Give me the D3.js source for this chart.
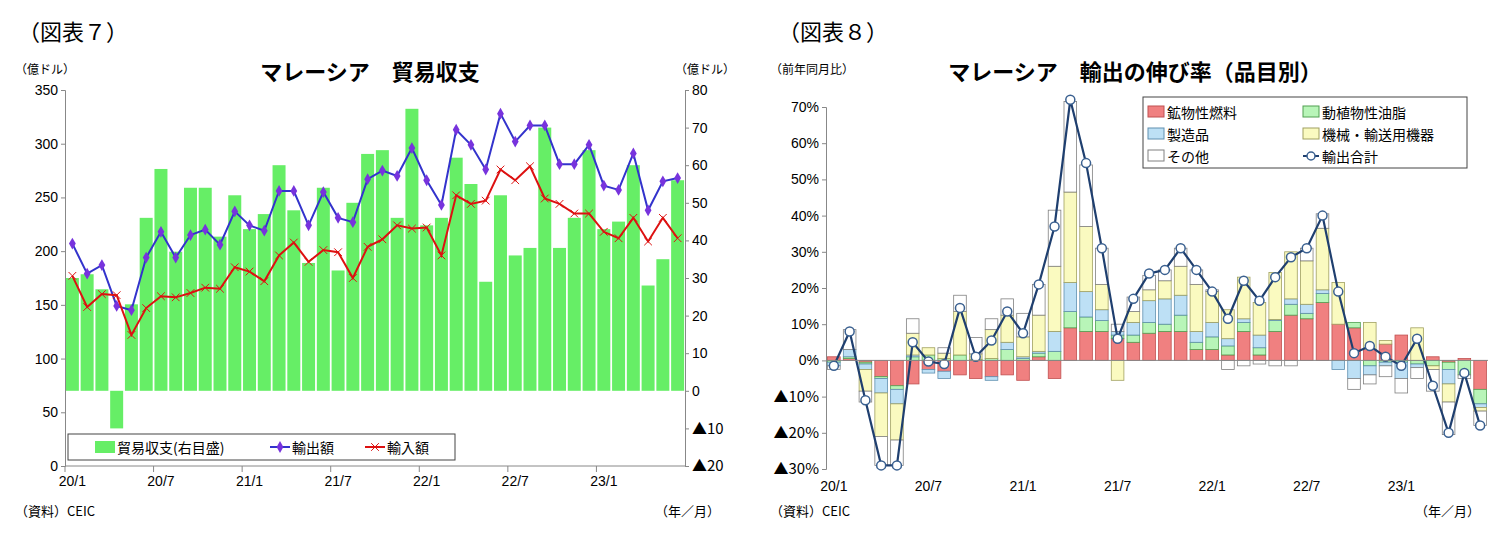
<!DOCTYPE html><html><head><meta charset="utf-8"><script src="https://cdn.jsdelivr.net/npm/d3@7"></script>
<style>body{margin:0;background:#fff}text{font-family:"Noto Sans CJK JP","Noto Sans",sans-serif}</style></head><body>
<svg id="c" width="1495" height="547"></svg>
<script>
const months=["20/1","20/2","20/3","20/4","20/5","20/6","20/7","20/8","20/9","20/10","20/11","20/12","21/1","21/2","21/3","21/4","21/5","21/6","21/7","21/8","21/9","21/10","21/11","21/12","22/1","22/2","22/3","22/4","22/5","22/6","22/7","22/8","22/9","22/10","22/11","22/12","23/1","23/2","23/3","23/4","23/5","23/6"];
const tickLabels=["20/1","20/7","21/1","21/7","22/1","22/7","23/1"];
const exportsV=[207,179,187,149,145,194,218,194,215,220,206,237,224,219,256,256,224,255,231,227,267,275,270,296,266,243,313,299,276,328,302,317,317,281,281,299,261,257,291,238,265,268];
const importsV=[177,148,160,159,122,147,158,157,161,166,165,185,181,172,196,208,190,201,199,175,204,211,224,221,222,196,252,244,247,276,266,279,249,244,235,235,218,212,231,209,231,212];
const balanceV=[30,31,27,-10,23,46,59,37,54,54,41,52,43,47,60,48,34,54,32,50,63,64,46,75,44,46,62,55,29,52,36,38,70,38,46,64,43,45,60,28,35,56];
const fuel=[1,0.5,-0.5,-4.5,-7,-6.5,-2.5,-3,-4,-5,-4.5,-4,-5.5,1,-5,9,8,8,6,5,7.5,8,8,3,3,1.5,8,1.5,8,12.5,11.5,16,10,9,3,4.5,7,0,1,-0.5,0.5,-8];
const oils=[-0.5,0.5,-0.5,-0.5,-1,1,1.5,0.5,1.5,0.3,0.5,3,0.5,1,2.5,4.5,4,3,1,2,3,2,4.5,2,3.5,2.5,2.5,2,3,3,1.5,2.5,0,1.5,-1.5,-0.5,-0.5,-1,-1.5,-2,-4,-4];
const manuf=[-1,2,-1.5,-4,-4,0.5,-1,-2,0,0,-1,2,0.5,0.5,5.5,8,7,3,1,3.5,6,7,5.5,3,4,2,1,3.5,0.3,1.5,2.5,1,-2.5,-5,-2.5,-1,-4.5,-1,0,-4,0,-1];
const machinery=[0,0,-6,-12,-10,6,2,1.5,12,1.5,8,7.5,5.5,10,18,25,18,7,-5.5,3,3,5,8,13,8.5,8,11.5,9,13,13,12,17,11.5,0,7.5,1,0,9,-1,-5,0,-1];
const others=[-1,5.5,-3,-8,-7,4,0,1.5,4.5,4.5,3,4.5,6.5,8.5,15.5,25,17,10,2,4,4,3,5,4,0.5,-2.5,-1.5,-1,-1.5,-1.5,3.5,4,0,-3,-2.5,-3,-4,-3,-6,-9,-1,-4];
const totalV=[-1.5,8,-11,-29,-29,5,-0.3,-1,14.5,1,5.5,13.5,7.5,21,37,72,54.5,31,6,17,24,25,31,25,19,11.5,22,16.5,23,28.5,31,40,19,2,4,1,-1.5,6,-7,-20,-3.5,-18];
const leftTicks=[0,50,100,150,200,250,300,350], rightTicks=[-20,-10,0,10,20,30,40,50,60,70,80];
const pctTicks=[-30,-20,-10,0,10,20,30,40,50,60,70];

const svg=d3.select("#c");
function txt(x,y,s,size,anchor="start",weight="normal"){svg.append("text").attr("x",x).attr("y",y).attr("font-size",size).attr("text-anchor",anchor).attr("font-weight",weight).text(s);}
const neg=v=>v<0?"▲"+(-v):""+v;
function styleTicks(a){a.selectAll("text").attr("font-size",14).attr("fill","#000").style("font-family","Liberation Sans, Arial");
 a.selectAll("text").filter(function(){return this.textContent.startsWith("▲");}).style("font-family","Noto Sans CJK JP").attr("font-size",15);
 a.select(".domain").attr("stroke","#888");a.selectAll(".tick line").attr("stroke","#888");}

// ---- Left chart
const x1=d3.scaleBand().domain(months).range([65,685]).paddingInner(0.12).paddingOuter(0.06);
const yL=d3.scaleLinear().domain([0,350]).range([466,90]);
const yR=d3.scaleLinear().domain([-20,80]).range([466,90]);
svg.append("g").selectAll("rect").data(balanceV).join("rect").attr("fill","#66ee66")
 .attr("x",(d,i)=>x1(months[i])).attr("width",x1.bandwidth()).attr("y",d=>yR(Math.max(0,d))).attr("height",d=>Math.abs(yR(d)-yR(0)));
const cx=i=>x1(months[i])+x1.bandwidth()/2;
svg.append("path").attr("d",d3.line().x((d,i)=>cx(i)).y(d=>yL(d))(exportsV)).attr("fill","none").attr("stroke","#3333cc").attr("stroke-width",2);
svg.append("g").selectAll("path").data(exportsV).join("path").attr("d",d3.symbol(d3.symbolDiamond,40)()).attr("transform",(d,i)=>`translate(${cx(i)},${yL(d)})`).attr("fill","#7733dd");
svg.append("path").attr("d",d3.line().x((d,i)=>cx(i)).y(d=>yL(d))(importsV)).attr("fill","none").attr("stroke","#dd1111").attr("stroke-width",2);
svg.append("g").selectAll("path").data(importsV).join("path").attr("d",d3.symbol(d3.symbolX,40)()).attr("transform",(d,i)=>`translate(${cx(i)},${yL(d)})`).attr("stroke","#dd1111").attr("fill","none");
const axL=svg.append("g").attr("transform","translate(65,0)").call(d3.axisLeft(yL).tickValues(leftTicks).tickSize(4));
const axR=svg.append("g").attr("transform","translate(685,0)").call(d3.axisRight(yR).tickValues(rightTicks).tickFormat(neg).tickSize(4));
const xa1=svg.append("g").attr("transform","translate(0,466)").call(d3.axisBottom(x1).tickValues(tickLabels).tickSize(0).tickPadding(10));
xa1.select(".domain").remove();
svg.append("line").attr("x1",65).attr("x2",685).attr("y1",466).attr("y2",466).attr("stroke","#888");
svg.append("g").selectAll("line").data(tickLabels).join("line").attr("x1",d=>x1(d)-x1.step()*0.06).attr("x2",d=>x1(d)-x1.step()*0.06).attr("y1",466).attr("y2",472).attr("stroke","#888");
[axL,axR,xa1].forEach(styleTicks);
// legend
svg.append("rect").attr("x",68).attr("y",434).attr("width",387).attr("height",26).attr("fill","#fff").attr("stroke","#444");
svg.append("rect").attr("x",95).attr("y",441).attr("width",20).attr("height",12).attr("fill","#66ee66");
txt(117,453,"貿易収支(右目盛)",14);
svg.append("line").attr("x1",270).attr("x2",290).attr("y1",447).attr("y2",447).attr("stroke","#3333cc").attr("stroke-width",2);
svg.append("path").attr("d",d3.symbol(d3.symbolDiamond,40)()).attr("transform","translate(280,447)").attr("fill","#7733dd");
txt(292,453,"輸出額",14);
svg.append("line").attr("x1",365).attr("x2",385).attr("y1",447).attr("y2",447).attr("stroke","#dd1111").attr("stroke-width",2);
svg.append("path").attr("d",d3.symbol(d3.symbolX,40)()).attr("transform","translate(375,447)").attr("stroke","#dd1111");
txt(387,453,"輸入額",14);
txt(18,40,"（図表７）",22);
txt(370,80,"マレーシア　貿易収支",22,"middle","bold");
txt(15,74,"（億ドル）",12);
txt(735,74,"（億ドル）",12,"end");
txt(15,516,"（資料）CEIC",13);
txt(720,516,"（年／月）",13,"end");

// ---- Right chart
const x2=d3.scaleBand().domain(months).range([826,1488]).paddingInner(0.2).paddingOuter(0.1);
const yP=d3.scaleLinear().domain([-30,70]).range([469,107]);
const series=[{v:fuel,c:"#f08080",s:"#c05050"},{v:oils,c:"#b8f5b8",s:"#50a050"},{v:manuf,c:"#bde0f5",s:"#6090b0"},{v:machinery,c:"#fafac0",s:"#a0a060"},{v:others,c:"#ffffff",s:"#808080"}];
const g2=svg.append("g");
months.forEach((m,i)=>{let pos=0,ng=0;series.forEach(s=>{const v=s.v[i];let y0,y1;if(v>=0){y0=pos;y1=pos+v;pos=y1;}else{y0=ng;y1=ng+v;ng=y1;}
 g2.append("rect").attr("x",x2(m)).attr("width",x2.bandwidth()).attr("y",yP(Math.max(y0,y1))).attr("height",Math.abs(yP(y0)-yP(y1))).attr("fill",s.c).attr("stroke",s.s).attr("stroke-width",0.8);});});
const cx2=i=>x2(months[i])+x2.bandwidth()/2;
svg.append("path").attr("d",d3.line().x((d,i)=>cx2(i)).y(d=>yP(d))(totalV)).attr("fill","none").attr("stroke","#1f3f6f").attr("stroke-width",2.2);
svg.append("g").selectAll("circle").data(totalV).join("circle").attr("cx",(d,i)=>cx2(i)).attr("cy",d=>yP(d)).attr("r",4.5).attr("fill","#fff").attr("stroke","#3a6090").attr("stroke-width",1.5);
const axP=svg.append("g").attr("transform","translate(826,0)").call(d3.axisLeft(yP).tickValues(pctTicks).tickFormat(d=>d<0?"▲"+(-d)+"%":d+"%").tickSize(4));
svg.append("line").attr("x1",826).attr("x2",1488).attr("y1",yP(0)).attr("y2",yP(0)).attr("stroke","#888");
const xa2=svg.append("g").attr("transform","translate(0,469)").call(d3.axisBottom(x2).tickValues(tickLabels).tickSize(0).tickPadding(12));
xa2.select(".domain").remove();
[axP,xa2].forEach(styleTicks);
svg.append("rect").attr("x",1143).attr("y",97).attr("width",324).attr("height",71).attr("fill","#fff").attr("stroke","#444");
const leg=[["鉱物性燃料",0,1148,112],["動植物性油脂",1,1303,112],["製造品",2,1148,134],["機械・輸送用機器",3,1303,134],["その他",4,1148,156]];
leg.forEach(([t,k,x,y])=>{svg.append("rect").attr("x",x).attr("y",y-6).attr("width",16).attr("height",11).attr("fill",series[k].c).attr("stroke",series[k].s);txt(x+19,y+6,t,14);});
svg.append("line").attr("x1",1303).attr("x2",1319).attr("y1",156).attr("y2",156).attr("stroke","#1f3f6f").attr("stroke-width",2);
svg.append("circle").attr("cx",1311).attr("cy",156).attr("r",4).attr("fill","#fff").attr("stroke","#3a6090").attr("stroke-width",1.5);
txt(1322,162,"輸出合計",14);
txt(778,40,"（図表８）",22);
txt(1135,80,"マレーシア　輸出の伸び率（品目別）",22,"middle","bold");
txt(770,74,"（前年同月比）",12);
txt(770,516,"（資料）CEIC",13);
txt(1480,516,"（年／月）",13,"end");
</script></body></html>
